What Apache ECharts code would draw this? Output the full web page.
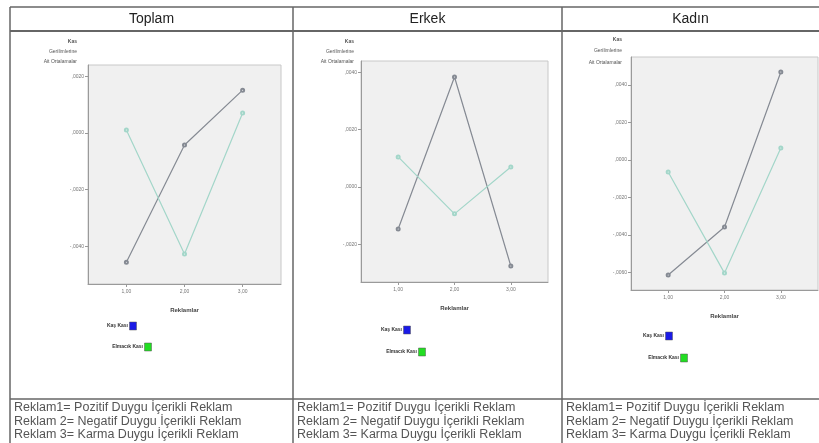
<!DOCTYPE html>
<html><head><meta charset="utf-8">
<script src="https://cdn.jsdelivr.net/npm/echarts@6/dist/echarts.min.js"></script>
<style>html,body{margin:0;padding:0;background:#fff}#c{width:819px;height:443px}</style>
</head><body><div id="c"></div>
<script>
// ---- data ----
const panelTitles = ['Toplam', 'Erkek', 'Kadın'];
const categories = [1, 2, 3];
const xTickLabels = ['1,00', '2,00', '3,00'];
const seriesNames = ['Kaş Kası', 'Elmacık Kası'];
const toplamKas = [-0.00457, -0.00042, 0.00152];
const toplamElmacik = [0.00011, -0.00428, 0.00071];
const erkekKas = [-0.00147, 0.00384, -0.00276];
const erkekElmacik = [0.00105, -0.00094, 0.00070];
const kadinKas = [-0.00613, -0.00357, 0.00469];
const kadinElmacik = [-0.00064, -0.00603, 0.00064];
const toplamTicks = [0.002, 0, -0.002, -0.004];
const erkekTicks = [0.004, 0.002, 0, -0.002];
const kadinTicks = [0.004, 0.002, 0, -0.002, -0.004, -0.006];
const yAxisTitle = ['Kas', 'Gerilimlerine', 'Ait Ortalamalar'];
const xAxisTitle = 'Reklamlar';
const footnotes = ['Reklam1= Pozitif Duygu İçerikli Reklam', 'Reklam 2= Negatif Duygu İçerikli Reklam', 'Reklam 3= Karma Duygu İçerikli Reklam'];

// ---- layout ----
const panels = [
  {kas: toplamKas, elm: toplamElmacik, ticks: toplamTicks, grid: {left: 88, top: 65, width: 193, height: 219}, yMin: -0.00534, yMax: 0.00241, colL: 10, colR: 293, ytR: 77, ytY: [42, 52, 62], legX: 128, legY: [326, 347]},
  {kas: erkekKas, elm: erkekElmacik, ticks: erkekTicks, grid: {left: 361, top: 61, width: 187, height: 221}, yMin: -0.00332, yMax: 0.0044, colL: 293, colR: 562, ytR: 354, ytY: [42, 52, 62], legX: 402, legY: [330, 352]},
  {kas: kadinKas, elm: kadinElmacik, ticks: kadinTicks, grid: {left: 631, top: 57, width: 187, height: 233}, yMin: -0.00693, yMax: 0.00549, colL: 562, colR: 819, ytR: 622, ytY: [40, 51, 63], legX: 664, legY: [336, 358]}
];
const fmt = v => (v < 0 ? '-' : '') + ',' + Math.abs(v).toFixed(4).slice(2);
const xFmt = v => xTickLabels[categories.indexOf(v)] || '';
const darkCol = '#858a93', greenCol = '#a3d6c9';

const grids = [], xAxes = [], yAxes = [], series = [], graphics = [];
panels.forEach((p, i) => {
  grids.push(Object.assign({show: true, backgroundColor: '#f0f0f0', borderColor: '#c8c8c8', borderWidth: 1}, p.grid));
  xAxes.push({type: 'value', gridIndex: i, min: 0.34, max: 3.66, splitLine: {show: false},
    axisLine: {onZero: false, lineStyle: {color: '#9a9a9a'}}, axisTick: {customValues: categories, length: 3, lineStyle: {color: '#999'}},
    axisLabel: {customValues: categories, formatter: xFmt, fontSize: 5, color: '#777', margin: 5},
    name: xAxisTitle, nameLocation: 'middle', nameGap: 23, nameTextStyle: {fontSize: 6, fontWeight: 'bold', color: '#444'}});
  yAxes.push({type: 'value', gridIndex: i, min: p.yMin, max: p.yMax, splitLine: {show: false},
    axisLine: {show: true, onZero: false, lineStyle: {color: '#9a9a9a'}}, axisTick: {show: true, customValues: p.ticks, length: 3, lineStyle: {color: '#999'}},
    axisLabel: {customValues: p.ticks, formatter: fmt, fontSize: 5, color: '#777', margin: 4}});
  [[p.kas, darkCol, seriesNames[0]], [p.elm, greenCol, seriesNames[1]]].forEach(([vals, col, nm]) => {
    series.push({type: 'line', name: nm, xAxisIndex: i, yAxisIndex: i, data: categories.map((c, k) => [c, vals[k]]),
      symbol: 'emptyCircle', symbolSize: 3, lineStyle: {color: col, width: 1.2}, itemStyle: {color: col, borderWidth: 1}, silent: true, animation: false});
  });
  graphics.push({type: 'text', x: (p.colL + p.colR) / 2, y: 19, style: {text: panelTitles[i], font: '14px Arial, Liberation Sans', fill: '#222', align: 'center', verticalAlign: 'middle'}});
  yAxisTitle.forEach((t, k) => graphics.push({type: 'text', x: p.ytR, y: p.ytY[k], style: {text: t, font: (k === 0 ? 'bold ' : '') + '5px Arial', fill: '#555', align: 'right', verticalAlign: 'middle'}}));
  const sq = [['#1a1ae6', seriesNames[0]], ['#22dd22', seriesNames[1]]];
  sq.forEach(([c, t], k) => {
    const tx = p.legX + (k === 1 ? 15 : 0);
    graphics.push({type: 'text', x: tx, y: p.legY[k], style: {text: t, font: 'bold 5px Arial', fill: '#333', align: 'right', verticalAlign: 'middle'}});
    graphics.push({type: 'rect', shape: {x: tx + 1.5, y: p.legY[k] - 4, width: 7, height: 8}, style: {fill: c, stroke: '#555', lineWidth: 0.5}});
  });
  footnotes.forEach((t, k) => graphics.push({type: 'text', x: p.colL + 4, y: 408 + k * 13.5, style: {text: t, font: '12.5px Arial, Liberation Sans', fill: '#555', verticalAlign: 'middle'}}));
});
const ln = (x1, y1, x2, y2, w) => graphics.push({type: 'line', shape: {x1, y1, x2, y2}, style: {stroke: '#666', lineWidth: w || 1.5}});
ln(10, 7, 819, 7); ln(10, 31, 819, 31, 2); ln(10, 399, 819, 399);
ln(10, 7, 10, 443); ln(293, 7, 293, 443); ln(562, 7, 562, 443);

const chart = echarts.init(document.getElementById('c'), null, {renderer: 'canvas'});
chart.setOption({animation: false, grid: grids, xAxis: xAxes, yAxis: yAxes, series, graphic: graphics});
</script></body></html>
